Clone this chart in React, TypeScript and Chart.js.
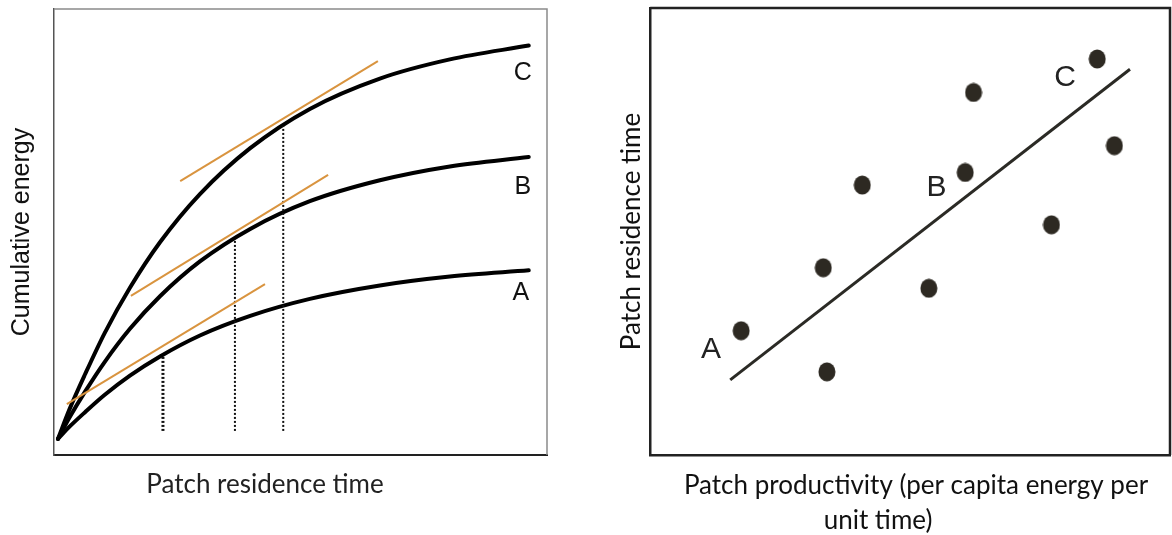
import React, { useEffect, useRef } from 'react';
import { Chart, registerables } from 'chart.js';

Chart.register(...registerables);

// ---------- Left panel: cumulative energy vs patch residence time ----------
const residenceTime = [0.8, 3.2, 6.3, 10.3, 15.4, 21.5, 29.6, 39.8, 51.9, 66.1, 80.3, 96.3];
const energyC = [3.6, 10.4, 18.1, 27.4, 37.5, 47.7, 58.5, 68.8, 77.6, 84.4, 88.7, 91.8];
const energyB = [3.6, 8.5, 14.2, 20.9, 28.3, 35.6, 43.4, 50.7, 56.9, 61.6, 64.7, 66.8];
const energyA = [3.6, 6.4, 9.6, 13.5, 17.8, 22.1, 26.8, 31.2, 35.0, 38.0, 40.0, 41.4];

// tangent (average intake rate) segments: [start, end]
const tangentX = [[2.6, 42.8], [15.6, 55.6], [25.6, 65.7]];
const tangentY = [[11.4, 38.3], [35.7, 62.8], [61.4, 88.3]];

// optimal residence times (dotted drop lines)
const optimalTime = [22.1, 36.7, 46.5];
const optimalEnergy = [22.0, 48.2, 73.8];
const dropBase = 5.4;

const curveLabels = ['A', 'B', 'C'];
const curveLabelX = [94.7, 95.1, 95.1];
const curveLabelY = [36.3, 60.1, 85.7];

// ---------- Right panel: residence time vs productivity ----------
const productivity = [17.5, 33.3, 34.0, 40.8, 53.6, 60.6, 62.2, 77.2, 86.0, 89.3];
const residence = [27.8, 41.9, 18.6, 60.4, 37.3, 63.2, 81.1, 51.5, 88.6, 69.2];
const trendX = [15.4, 92.3];
const trendY = [16.8, 86.3];
const patchLabels = ['A', 'B', 'C'];
const patchLabelX = [11.7, 55.1, 79.8];
const patchLabelY = [23.5, 59.7, 84.5];

const leftXTitle = 'Patch residence time';
const leftYTitle = 'Cumulative energy';
const rightYTitle = 'Patch residence time';
const rightXTitle = ['Patch productivity (per capita energy per', 'unit time)'];

const textPlugin = {
  id: 'texts',
  afterDatasetsDraw(chart: any, _args: any, opts: any) {
    const ctx = chart.ctx;
    const xs = chart.scales.x;
    const ys = chart.scales.y;
    (opts.items || []).forEach((it: any) => {
      const px = it.data ? xs.getPixelForValue(it.x) : it.x;
      const py = it.data ? ys.getPixelForValue(it.y) : it.y;
      ctx.save();
      ctx.font = it.font;
      ctx.fillStyle = it.color;
      ctx.textAlign = 'center';
      ctx.textBaseline = 'middle';
      ctx.fillText(it.text, px, py);
      ctx.restore();
    });
  },
};

const framePlugin = {
  id: 'frame',
  afterDraw(chart: any, _args: any, opts: any) {
    const { left, top, right, bottom } = chart.chartArea;
    const ctx = chart.ctx;
    ctx.save();
    ctx.strokeStyle = opts.color;
    ctx.lineWidth = opts.width;
    ctx.beginPath();
    ctx.moveTo(left, top);
    ctx.lineTo(right, top);
    ctx.lineTo(right, bottom);
    ctx.stroke();
    ctx.restore();
  },
};

function pts(xs: number[], ys: number[]) {
  return xs.map((x, i) => ({ x, y: ys[i] }));
}

const hiddenGrid = { display: false, drawTicks: false, tickLength: 0 };

function LeftChart() {
  const ref = useRef<HTMLCanvasElement>(null);
  useEffect(() => {
    if (!ref.current) return;
    const orange = '#d9943f';
    const datasets: any[] = [];
    tangentX.forEach((tx, i) => {
      datasets.push({
        data: pts(tx, tangentY[i]),
        borderColor: orange,
        borderWidth: 2,
        pointRadius: 0,
        tension: 0,
      });
    });
    optimalTime.forEach((t, i) => {
      datasets.push({
        data: pts([t, t], [dropBase, optimalEnergy[i]]),
        borderColor: '#111',
        borderWidth: i === 0 ? 3 : 2,
        borderDash: [2, 2],
        pointRadius: 0,
      });
    });
    [energyA, energyB, energyC].forEach((e) => {
      datasets.push({
        data: pts(residenceTime, e),
        borderColor: '#000',
        borderWidth: 4,
        pointRadius: 0,
        cubicInterpolationMode: 'monotone',
        borderCapStyle: 'round',
      });
    });
    const items: any[] = curveLabels.map((t, i) => ({
      text: t,
      x: curveLabelX[i],
      y: curveLabelY[i],
      data: true,
      font: '25px "Liberation Sans", Arial, sans-serif',
      color: '#111',
    }));
    items.push({
      text: leftXTitle,
      x: 265,
      y: 485,
      data: false,
      font: '26px Lato, sans-serif',
      color: '#222',
    });
    const chart = new Chart(ref.current, {
      type: 'line',
      data: { datasets },
      plugins: [textPlugin, framePlugin],
      options: {
        animation: false,
        responsive: false,
        devicePixelRatio: 1,
        layout: { autoPadding: false, padding: { left: 0, top: 9, right: 13, bottom: 80 } },
        scales: {
          x: {
            type: 'linear',
            min: 0,
            max: 100,
            grid: hiddenGrid,
            ticks: { display: false },
            border: { display: true, color: '#222', width: 2 },
          },
          y: {
            type: 'linear',
            min: 0,
            max: 100,
            grid: hiddenGrid,
            ticks: { display: false },
            border: { display: true, color: '#555', width: 1.5 },
            title: {
              display: true,
              text: leftYTitle,
              color: '#111',
              font: { family: '"Liberation Sans", Arial, sans-serif', size: 25, lineHeight: 1.2 },
              padding: { top: 7, bottom: 17 },
            },
          },
        },
        plugins: {
          legend: { display: false },
          tooltip: { enabled: false },
          texts: { items },
          frame: { color: '#8a8a8a', width: 1.5 },
        } as any,
      },
    });
    return () => chart.destroy();
  }, []);
  return <canvas ref={ref} width={560} height={535} />;
}

function RightChart() {
  const ref = useRef<HTMLCanvasElement>(null);
  useEffect(() => {
    if (!ref.current) return;
    const dot = document.createElement('canvas');
    dot.width = 18;
    dot.height = 20;
    const dctx = dot.getContext('2d')!;
    dctx.fillStyle = '#2d2922';
    dctx.beginPath();
    dctx.ellipse(9, 10, 8.5, 9.5, 0, 0, Math.PI * 2);
    dctx.fill();

    const items: any[] = patchLabels.map((t, i) => ({
      text: t,
      x: patchLabelX[i],
      y: patchLabelY[i],
      data: true,
      font: '30px "Liberation Sans", Arial, sans-serif',
      color: '#222',
    }));
    items.push({ text: rightXTitle[0], x: 336, y: 486, data: false, font: '26px Lato, sans-serif', color: '#111' });
    items.push({ text: rightXTitle[1], x: 298, y: 521, data: false, font: '26px Lato, sans-serif', color: '#111' });

    const chart = new Chart(ref.current, {
      type: 'scatter',
      data: {
        datasets: [
          {
            data: pts(productivity, residence),
            pointStyle: dot as any,
            pointRadius: 9,
            backgroundColor: '#2d2922',
            borderColor: '#2d2922',
          },
          {
            data: pts(trendX, trendY),
            showLine: true,
            borderColor: '#2b2a25',
            borderWidth: 3,
            pointRadius: 0,
          },
        ],
      },
      plugins: [textPlugin, framePlugin],
      options: {
        animation: false,
        responsive: false,
        devicePixelRatio: 1,
        layout: { autoPadding: false, padding: { left: 0, top: 8, right: 2, bottom: 80 } },
        scales: {
          x: {
            type: 'linear',
            min: 0,
            max: 100,
            grid: hiddenGrid,
            ticks: { display: false },
            border: { display: true, color: '#222', width: 2.5 },
          },
          y: {
            type: 'linear',
            min: 0,
            max: 100,
            grid: hiddenGrid,
            ticks: { display: false },
            border: { display: true, color: '#222', width: 2.5 },
            title: {
              display: true,
              text: rightYTitle,
              color: '#111',
              font: { family: 'Lato, sans-serif', size: 26, lineHeight: 1.2 },
              padding: { top: 36, bottom: 3 },
            },
          },
        },
        plugins: {
          legend: { display: false },
          tooltip: { enabled: false },
          texts: { items },
          frame: { color: '#222', width: 2.5 },
        } as any,
      },
    });
    return () => chart.destroy();
  }, []);
  return <canvas ref={ref} width={592} height={535} />;
}

export default function App() {
  return (
    <div style={{ position: 'absolute', left: 0, top: 0, width: 1172, height: 535, background: '#fff', overflow: 'hidden' }}>
      <div style={{ position: 'absolute', left: 0, top: 0, width: 560, height: 535 }}>
        <LeftChart />
      </div>
      <div style={{ position: 'absolute', left: 580, top: 0, width: 592, height: 535 }}>
        <RightChart />
      </div>
    </div>
  );
}
